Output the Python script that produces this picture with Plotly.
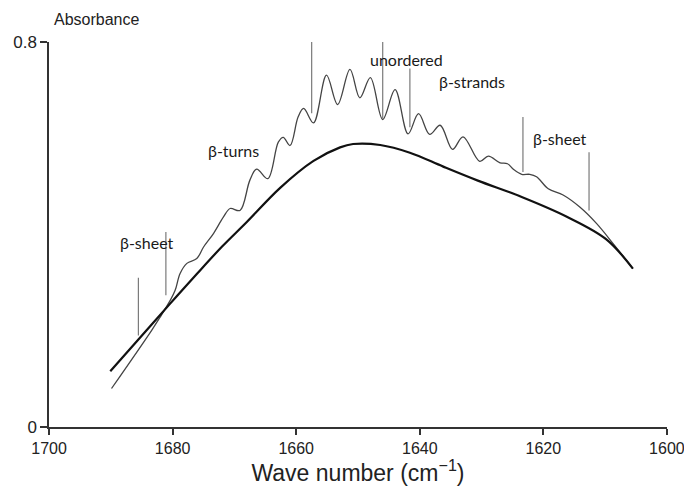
import plotly.graph_objects as go

# Smooth (thick) baseline curve
smooth_wn = [1690.1, 1683.4, 1679.6, 1676.1, 1672.0, 1668.0, 1662.6, 1657.2, 1652.9, 1650.8,
             1646.4, 1641.6, 1636.2, 1630.6, 1623.5, 1616.2, 1609.8, 1605.5]
smooth_abs = [0.116, 0.213, 0.268, 0.318, 0.375, 0.426, 0.497, 0.553, 0.581, 0.588,
              0.586, 0.570, 0.541, 0.512, 0.478, 0.437, 0.390, 0.329]

# Wavy (thin) spectrum
wavy_wn = [1689.9, 1683.4, 1682.0, 1680.4, 1679.6, 1678.8, 1677.7, 1676.1, 1675.0, 1673.4,
           1671.8, 1670.7, 1669.1, 1667.5, 1666.4, 1664.6, 1662.9, 1662.1, 1661.0, 1659.7,
           1658.8, 1657.2, 1655.1, 1653.3, 1651.3, 1649.7, 1648.0, 1646.0, 1644.0, 1641.9,
           1640.2, 1638.4, 1636.7, 1634.7, 1633.0, 1630.3, 1628.9, 1627.0, 1625.8, 1624.8,
           1623.5, 1622.2, 1621.1, 1619.2, 1616.8, 1614.1, 1611.4, 1608.7, 1605.5]
wavy_abs = [0.080, 0.201, 0.229, 0.263, 0.284, 0.319, 0.340, 0.350, 0.374, 0.402,
            0.436, 0.454, 0.450, 0.513, 0.536, 0.516, 0.592, 0.602, 0.585, 0.644,
            0.662, 0.632, 0.731, 0.670, 0.743, 0.684, 0.726, 0.639, 0.701, 0.609,
            0.651, 0.608, 0.627, 0.577, 0.603, 0.552, 0.563, 0.549, 0.547, 0.535,
            0.525, 0.525, 0.520, 0.495, 0.482, 0.457, 0.423, 0.381, 0.329]

# Band marker lines (wave number, bottom, top)
mark_wn = [1685.55, 1681.1, 1657.5, 1646.0, 1641.6, 1623.3, 1612.6]
mark_lo = [0.190, 0.274, 0.652, 0.641, 0.623, 0.530, 0.450]
mark_hi = [0.310, 0.405, 0.800, 0.807, 0.745, 0.644, 0.571]

# Band labels
label_text = ["β-sheet", "β-turns", "α-helix", "unordered", "β-strands", "β-sheet"]
label_wn = [1684.2, 1670.2, 1651.6, 1642.1, 1631.5, 1617.3]
label_abs = [0.384, 0.575, 0.801, 0.764, 0.717, 0.599]

x_ticks = [1700, 1680, 1660, 1640, 1620, 1600]
y_ticks = [0, 0.8]
y_tick_text = ["0", "0.8"]

fig = go.Figure()

fig.add_trace(go.Scatter(x=wavy_wn, y=wavy_abs, mode="lines",
                         line=dict(color="#444444", width=1.3, shape="spline", smoothing=1.0),
                         hoverinfo="skip"))
fig.add_trace(go.Scatter(x=smooth_wn, y=smooth_abs, mode="lines",
                         line=dict(color="#111111", width=2.2, shape="spline", smoothing=1.0),
                         hoverinfo="skip"))

for xw, lo, hi in zip(mark_wn, mark_lo, mark_hi):
    fig.add_shape(type="line", x0=xw, x1=xw, y0=lo, y1=hi, xref="x", yref="y",
                  line=dict(color="#7a7a7a", width=1.2))

for t, xw, yv in zip(label_text, label_wn, label_abs):
    fig.add_annotation(x=xw, y=yv, text=t, showarrow=False, xanchor="center", yanchor="middle",
                       font=dict(family="Lato, Open Sans, sans-serif", size=16, color="#1a1a1a"))

fig.add_annotation(x=0, y=1, xref="paper", yref="paper", text="Absorbance", showarrow=False,
                   xanchor="left", yanchor="bottom", xshift=3, yshift=12,
                   font=dict(family="Liberation Sans, Arial, sans-serif", size=16, color="#222"))

fig.update_layout(
    width=684, height=486,
    margin=dict(l=49, r=17, t=42, b=59),
    paper_bgcolor="white", plot_bgcolor="white",
    showlegend=False,
    font=dict(family="Liberation Sans, Arial, sans-serif", color="#222"),
)
fig.update_xaxes(range=[1700.02, 1599.98], tickvals=x_ticks, ticks="outside", ticklen=6, tickwidth=1.5,
                 tickcolor="#333", showline=True, linecolor="#333", linewidth=1.5,
                 showgrid=False, zeroline=False, tickfont=dict(size=16), ticklabeloverflow="allow",
                 automargin=False,
                 title=dict(text="Wave number (cm<sup>−1</sup>)", font=dict(size=23), standoff=7))
fig.update_yaxes(range=[0, 0.8], tickvals=y_ticks, ticktext=y_tick_text, ticks="outside",
                 ticklen=7, tickwidth=1.5, tickcolor="#333", showline=True, linecolor="#333",
                 linewidth=1.5, showgrid=False, zeroline=False, tickfont=dict(size=17),
                 automargin=False)

fig.write_html("out.html")
